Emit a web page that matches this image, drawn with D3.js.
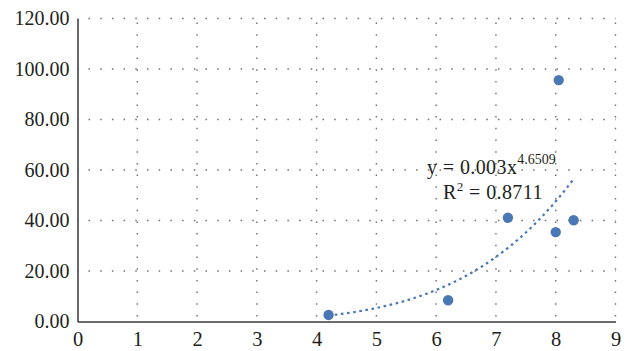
<!DOCTYPE html>
<html>
<head>
<meta charset="utf-8">
<script src="https://cdn.jsdelivr.net/npm/d3@7"></script>
<style>
    html, body { margin: 0; padding: 0; background: #fff; }
    svg { display: block; }
    text { font-family: "Liberation Serif", "Times New Roman", serif; fill: #231f20; }
</style>
</head>
<body>
<svg id="chart"></svg>
<script>
// Data
const xValues = [4.2, 6.2, 7.2, 8.0, 8.05, 8.3];
const yValues = [2.6, 8.4, 41.1, 35.4, 95.6, 40.1];
const xTicks = [0, 1, 2, 3, 4, 5, 6, 7, 8, 9];
const yTicks = [0, 20, 40, 60, 80, 100, 120];
// Power trendline as printed on the chart: y = a * x^b
const trendA = 0.003;
const trendB = 4.6509;
const trendR2 = 0.8711;

function drawChart() {
    // Graph constants
    const width = 627;
    const height = 351;
    const margin = { top: 18.5, right: 11.5, bottom: 29.5, left: 77.5 };
    const blue = '#4a78b5';

    const xScale = d3.scaleLinear()
        .domain([0, 9])
        .range([margin.left, width - margin.right]);
    const yScale = d3.scaleLinear()
        .domain([0, 120])
        .range([height - margin.bottom, margin.top]);

    const svg = d3.select('#chart')
        .attr('width', width)
        .attr('height', height);

    // Dotted grid
    svg.append('g')
        .selectAll('line')
        .data(yTicks.filter(d => d > 0))
        .join('line')
        .attr('x1', xScale(0))
        .attr('x2', xScale(9))
        .attr('y1', d => yScale(d))
        .attr('y2', d => yScale(d))
        .attr('stroke', '#6e6e6e')
        .attr('stroke-width', 1.4)
        .attr('stroke-dasharray', '1.5,10.2')
        .attr('stroke-dashoffset', -11);
    svg.append('g')
        .selectAll('line')
        .data(xTicks.filter(d => d > 0))
        .join('line')
        .attr('x1', d => xScale(d))
        .attr('x2', d => xScale(d))
        .attr('y1', yScale(0))
        .attr('y2', yScale(120))
        .attr('stroke', '#6e6e6e')
        .attr('stroke-width', 1.4)
        .attr('stroke-dasharray', '1.5,10.2')
        .attr('stroke-dashoffset', -5);

    // Axes
    const xAxis = d3.axisBottom(xScale)
        .tickValues(xTicks)
        .tickSize(0)
        .tickPadding(10)
        .tickFormat(d3.format('d'));
    const yAxis = d3.axisLeft(yScale)
        .tickValues(yTicks)
        .tickSize(0)
        .tickPadding(8)
        .tickFormat(d3.format('.2f'));

    const gx = svg.append('g')
        .attr('transform', `translate(0,${yScale(0)})`)
        .call(xAxis);
    gx.select('.domain').attr('stroke', '#3a3a3a').attr('stroke-width', 1.5);
    gx.selectAll('text')
        .style('font-size', '20.5px')
        .style('font-family', '"Liberation Serif", serif')
        .attr('fill', '#231f20');

    const gy = svg.append('g')
        .attr('transform', `translate(${xScale(0)},0)`)
        .call(yAxis);
    gy.select('.domain').attr('stroke', '#3a3a3a').attr('stroke-width', 1.5);
    gy.selectAll('text')
        .style('font-size', '20px')
        .style('font-family', '"Liberation Serif", serif')
        .attr('fill', '#231f20')
        .attr('dy', '0.32em');

    // Trendline
    const xMin = d3.min(xValues);
    const xMax = d3.max(xValues);
    const trend = d3.range(0, 61).map(i => {
        const x = xMin + (xMax - xMin) * i / 60;
        return [x, trendA * Math.pow(x, trendB)];
    });
    const line = d3.line()
        .x(d => xScale(d[0]))
        .y(d => yScale(d[1]))
        .curve(d3.curveMonotoneX);
    svg.append('path')
        .datum(trend)
        .attr('d', line)
        .attr('fill', 'none')
        .attr('stroke', blue)
        .attr('stroke-width', 2.2)
        .attr('stroke-dasharray', '2.6,3.6');

    // Points
    svg.append('g')
        .selectAll('circle')
        .data(xValues.map((x, i) => ({ x: x, y: yValues[i] })))
        .join('circle')
        .attr('cx', d => xScale(d.x))
        .attr('cy', d => yScale(d.y))
        .attr('r', 5.2)
        .attr('fill', blue);

    // Equation label
    const eq = svg.append('text')
        .attr('x', 427)
        .attr('y', 174)
        .style('font-size', '20px')
        .style('letter-spacing', '0.4px');
    eq.append('tspan').text('y = ' + trendA + 'x');
    eq.append('tspan')
        .attr('dy', -10)
        .style('font-size', '14px')
        .style('letter-spacing', '0px')
        .text(trendB);

    const r2 = svg.append('text')
        .attr('x', 443)
        .attr('y', 199)
        .style('font-size', '20px')
        .style('letter-spacing', '0.4px');
    r2.append('tspan').text('R');
    r2.append('tspan')
        .attr('dy', -8)
        .style('font-size', '13px')
        .text('2');
    r2.append('tspan')
        .attr('dy', 8)
        .text(' = ' + trendR2);
}

drawChart();
</script>
</body>
</html>
